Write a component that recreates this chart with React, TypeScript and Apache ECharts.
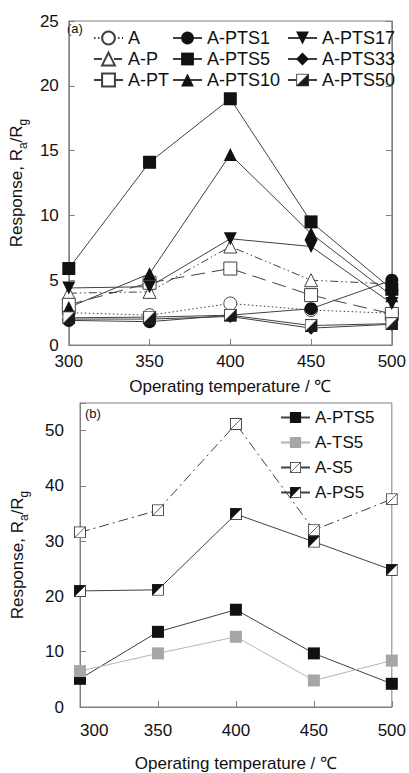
import React, { useEffect, useRef } from "react";
import * as echarts from "echarts";

// ---- data ----
const temps = [300, 350, 400, 450, 500];

// panel (a)
const aA = [2.5, 2.3, 3.2, 2.7, 2.45];
const aP = [4.0, 4.1, 7.6, 5.0, 4.7];
const aPT = [3.1, 4.8, 5.9, 3.85, 2.4];
const aPTS1 = [1.9, 1.8, 2.3, 2.8, 5.0];
const aPTS5 = [5.9, 14.1, 19.0, 9.5, 4.3];
const aPTS10 = [2.9, 5.5, 14.7, 8.6, 3.8];
const aPTS17 = [4.4, 4.5, 8.2, 7.6, 3.2];
const aPTS33 = [2.0, 2.0, 2.2, 1.3, 1.6];
const aPTS50 = [2.1, 2.15, 2.3, 1.5, 1.65];

// panel (b)
const bPTS5 = [5.1, 13.6, 17.6, 9.7, 4.2];
const bTS5 = [6.5, 9.7, 12.7, 4.8, 8.4];
const bS5 = [31.6, 35.6, 51.2, 32.0, 37.6];
const bPS5 = [21.0, 21.2, 34.9, 29.9, 24.8];

const legendA1 = ["A", "A-P", "A-PT"];
const legendA2 = ["A-PTS1", "A-PTS5", "A-PTS10"];
const legendA3 = ["A-PTS17", "A-PTS33", "A-PTS50"];
const legendB = ["A-PTS5", "A-TS5", "A-S5", "A-PS5"];

const xName = "Operating temperature / ℃";
const yName = "{n|Response, R}{s|a}{n|/R}{s|g}";

// ---- styles ----
const LINE = "#404040";
const AXIS = "#808080";
const FONT = "Liberation Sans";

function svgImg(body: string) {
  return (
    "image://data:image/svg+xml;charset=utf-8," +
    encodeURIComponent(
      `<svg xmlns='http://www.w3.org/2000/svg' width='24' height='24' viewBox='0 0 24 24'>${body}</svg>`
    )
  );
}
const halfLR = svgImg(
  "<rect x='1' y='1' width='22' height='22' fill='white' stroke='#333' stroke-width='1.8'/><polygon points='1,23 23,1 23,23' fill='#1a1a1a' stroke='#1a1a1a' stroke-width='1'/>"
);
const halfUL = svgImg(
  "<rect x='1' y='1' width='22' height='22' fill='white' stroke='#333' stroke-width='1.8'/><polygon points='1,1 23,1 1,23' fill='#111' stroke='#111' stroke-width='1'/>"
);
const slashSq = svgImg(
  "<rect x='1' y='1' width='22' height='22' fill='white' stroke='#333' stroke-width='1.8'/><line x1='1' y1='23' x2='23' y2='1' stroke='#333' stroke-width='1.6'/>"
);

function pts(vals: number[]) {
  return temps.map((t, i) => [t, vals[i]]);
}

function ser(
  name: string,
  vals: number[],
  symbol: string,
  size: number,
  fill: string,
  lineType: any,
  panel: number,
  lineColor = LINE,
  border = LINE
) {
  return {
    name,
    type: "line",
    xAxisIndex: panel === 0 ? 0 : 1,
    yAxisIndex: panel === 0 ? 0 : 2,
    data: pts(vals),
    symbol,
    symbolSize: size,
    showAllSymbol: true,
    lineStyle: { color: lineColor, width: 1, type: lineType },
    itemStyle: { color: fill, borderColor: border, borderWidth: fill === "#fff" ? 1 : 0 },
    emphasis: { disabled: true },
    z: 2,
  };
}

const plain = { fontFamily: FONT, fontWeight: 400, color: "#111", textBorderWidth: 0, textBorderColor: "transparent" };

const yRich = {
  n: { ...plain, fontSize: 17, lineHeight: 20, verticalAlign: "bottom" },
  s: { ...plain, fontSize: 12, lineHeight: 20, verticalAlign: "bottom", padding: [0, 0, -4, 0] },
};

function legendCol(data: string[], left: number, top: number, itemH: number, gap: number, fs: number) {
  return {
    data,
    left,
    top,
    orient: "vertical",
    itemWidth: 29,
    itemHeight: itemH,
    itemGap: gap,
    selectedMode: false,
    padding: 0,
    textStyle: { ...plain, fontSize: fs, lineHeight: itemH },
  };
}

export default function App() {
  const ref = useRef<HTMLDivElement>(null);
  useEffect(() => {
    if (!ref.current) return;
    const chart = echarts.init(ref.current, undefined, { renderer: "svg" });
    const axisCommon = {
      axisLine: { show: true, lineStyle: { color: AXIS, width: 1 } },
      axisTick: { show: true, inside: true, length: 6, lineStyle: { color: AXIS } },
      splitLine: { show: false },
      axisLabel: { ...plain, fontSize: 17 },
    };
    const nameStyle = { ...plain, fontSize: 17 };
    const option: any = {
      animation: false,
      backgroundColor: "#fff",
      grid: [
        { left: 67, top: 21, width: 326, height: 324, show: true, borderColor: AXIS, borderWidth: 1, backgroundColor: "transparent" },
        { left: 80, top: 403, width: 312, height: 313, show: true, borderColor: AXIS, borderWidth: 1, backgroundColor: "transparent" },
      ],
      xAxis: [
        {
          ...axisCommon,
          gridIndex: 0,
          type: "value",
          min: 300,
          max: 500,
          interval: 50,
          axisLabel: { ...axisCommon.axisLabel, margin: 8 },
          name: xName,
          nameLocation: "middle",
          nameGap: 33,
          nameTextStyle: nameStyle,
        },
        {
          ...axisCommon,
          gridIndex: 1,
          type: "value",
          min: 300,
          max: 500,
          interval: 50,
          axisLabel: { ...axisCommon.axisLabel, margin: 15, alignMinLabel: "left" },
          name: xName,
          nameLocation: "middle",
          nameGap: 48,
          nameTextStyle: nameStyle,
        },
      ],
      yAxis: [
        {
          ...axisCommon,
          gridIndex: 0,
          type: "value",
          min: 0,
          max: 25,
          interval: 5,
          axisLabel: { ...axisCommon.axisLabel, margin: 10 },
          name: yName,
          nameLocation: "middle",
          nameGap: 40,
          nameTextStyle: { ...plain, rich: yRich },
        },
        {
          ...axisCommon,
          gridIndex: 0,
          type: "value",
          position: "right",
          min: 0,
          max: 25,
          interval: 5,
          axisLabel: { show: false },
        },
        {
          ...axisCommon,
          gridIndex: 1,
          type: "value",
          min: 0,
          max: 55,
          interval: 10,
          axisLabel: {
            ...axisCommon.axisLabel,
            margin: 16,
            formatter: (v: number) => (v % 10 === 0 ? String(v) : ""),
          },
          name: yName,
          nameLocation: "middle",
          nameGap: 54,
          nameTextStyle: { ...plain, rich: yRich },
        },
      ],
      legend: [
        legendCol(legendA1, 93, 29, 16, 3, 18),
        legendCol(legendA2, 172, 29, 16, 3, 18),
        legendCol(legendA3, 287, 29, 16, 3, 18),
        legendCol(legendB, 280, 409, 14, 8, 17),
      ],
      graphic: [
        { type: "text", left: 67, top: 22, style: { text: "(a)", fontSize: 13, fontFamily: FONT, fill: "#111" } },
        { type: "text", left: 85, top: 407, style: { text: "(b)", fontSize: 13, fontFamily: FONT, fill: "#111" } },
      ],
      series: [
        ser("A", aA, "circle", 13, "#fff", [1.5, 2.5], 0),
        ser("A-P", aP, "triangle", 13, "#fff", [8, 3, 1.5, 3, 1.5, 3], 0),
        ser("A-PT", aPT, "rect", 13, "#fff", [14, 7], 0),
        ser("A-PTS1", aPTS1, "circle", 13, "#111", "solid", 0),
        ser("A-PTS5", aPTS5, "rect", 13, "#111", "solid", 0),
        ser("A-PTS10", aPTS10, "triangle", 13, "#111", "solid", 0),
        { ...ser("A-PTS17", aPTS17, "triangle", 13, "#111", "solid", 0), symbolRotate: 180 },
        ser("A-PTS33", aPTS33, "diamond", 13, "#111", "solid", 0),
        ser("A-PTS50", aPTS50, halfLR, 13, "#111", "solid", 0),
        ser("A-PTS5", bPTS5, "rect", 12, "#111", "solid", 1),
        ser("A-TS5", bTS5, "rect", 12, "#a6a6a6", "solid", 1, "#b5b5b5"),
        ser("A-S5", bS5, slashSq, 12, "#111", [10, 4, 2, 4], 1),
        ser("A-PS5", bPS5, halfUL, 12, "#111", "solid", 1),
      ],
    };
    chart.setOption(option);
    return () => chart.dispose();
  }, []);
  return (
    <div
      ref={ref}
      style={{ position: "fixed", left: 0, top: 0, width: 409, height: 773, background: "#fff" }}
    />
  );
}
